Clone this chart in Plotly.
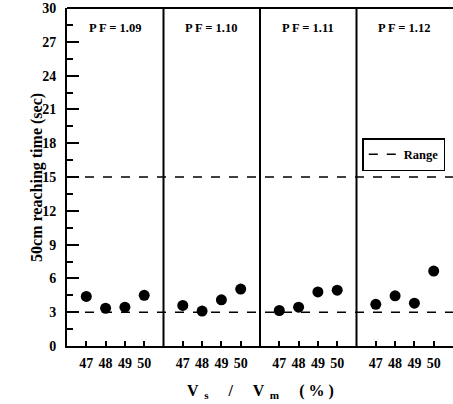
import plotly.graph_objects as go

panels = ["PF=1.09", "PF=1.10", "PF=1.11", "PF=1.12"]
speed_ratio = [47, 48, 49, 50]
times = [
    [4.4, 3.35, 3.45, 4.5],
    [3.6, 3.1, 4.1, 5.05],
    [3.15, 3.45, 4.8, 4.95],
    [3.7, 4.45, 3.8, 6.65],
]
range_bounds = [3, 15]
y_ticks = [0, 3, 6, 9, 12, 15, 18, 21, 24, 27, 30]

FONT = "Liberation Serif"
fig = go.Figure()

n = len(panels)
for i, (name, vals) in enumerate(zip(panels, times)):
    ax = "" if i == 0 else str(i + 1)
    fig.add_trace(go.Scatter(
        x=speed_ratio, y=vals, mode="markers",
        marker=dict(color="black", size=11),
        xaxis="x" + ax, yaxis="y", showlegend=False,
    ))
    fig.update_layout(**{
        "xaxis" + ax: dict(
            domain=[i / n, (i + 1) / n], range=[46, 51],
            tickvals=speed_ratio, ticktext=[str(v) for v in speed_ratio],
            ticks="inside", ticklen=5, tickwidth=1.5, tickcolor="black",
            showline=True, linecolor="black", linewidth=2,
            showgrid=False, zeroline=False, anchor="y",
            ticklabelstandoff=3,
            tickfont=dict(family=FONT, size=14, color="black", weight="bold"),
        )
    })
    fig.add_annotation(
        x=(i + 0.5) / n, xref="paper", y=0.94, yref="paper",
        xanchor="center", yanchor="middle",
        text="P F = " + name[3:], showarrow=False,
        font=dict(family=FONT, size=12.5, color="black", weight="bold"),
    )

# Range lines across the whole plot on a hidden full-width axis
fig.add_trace(go.Scatter(
    x=[0, 1, None, 0, 1],
    y=[range_bounds[0], range_bounds[0], None, range_bounds[1], range_bounds[1]],
    mode="lines", line=dict(color="black", width=1.5, dash="dash"),
    name="Range", xaxis="x5", yaxis="y", showlegend=True,
))

# panel dividers and top border
for i in range(1, n):
    fig.add_shape(type="line", xref="paper", yref="paper",
                  x0=i / n, x1=i / n, y0=0, y1=1,
                  line=dict(color="black", width=2))
fig.add_shape(type="line", xref="paper", yref="paper",
              x0=0, x1=1, y0=1, y1=1, line=dict(color="black", width=2))

fig.update_layout(
    width=453, height=404,
    margin=dict(l=67, r=0, t=8, b=58),
    paper_bgcolor="white", plot_bgcolor="rgba(0,0,0,0)",
    xaxis5=dict(domain=[0, 1], range=[0, 1], anchor="y", visible=False),
    yaxis=dict(
        range=[0, 30], tickvals=y_ticks,
        ticks="inside", ticklen=12, tickwidth=1.5, tickcolor="black",
        minor=dict(dtick=1.5, tick0=0, ticks="inside", ticklen=6,
                   tickwidth=1.5, tickcolor="black", showgrid=False),
        showline=True, linecolor="black", linewidth=2,
        showgrid=False, zeroline=False,
        ticklabelstandoff=6,
        tickfont=dict(family=FONT, size=14, color="black", weight="bold"),
    ),
    legend=dict(
        x=0.765, y=0.615, xanchor="left", yanchor="top",
        bordercolor="black", borderwidth=1.5, bgcolor="white",
        font=dict(family=FONT, size=12.5, color="black", weight="bold"),
        itemwidth=30, tracegroupgap=0,
    ),
    showlegend=True,
)

fig.add_annotation(
    x=-0.078, xref="paper", y=0.5, yref="paper", xanchor="center", yanchor="middle",
    text="50cm reaching time (sec)", textangle=-90, showarrow=False,
    font=dict(family=FONT, size=16, color="black", weight="bold"),
)

fig.add_annotation(
    x=0.5, xref="paper", y=-0.136, yref="paper", xanchor="center", yanchor="middle",
    text="V<sub>  s</sub>     /     V<sub>  m</sub>     ( % )", showarrow=False,
    font=dict(family=FONT, size=16, color="black", weight="bold"),
)

fig.write_html("out.html")
